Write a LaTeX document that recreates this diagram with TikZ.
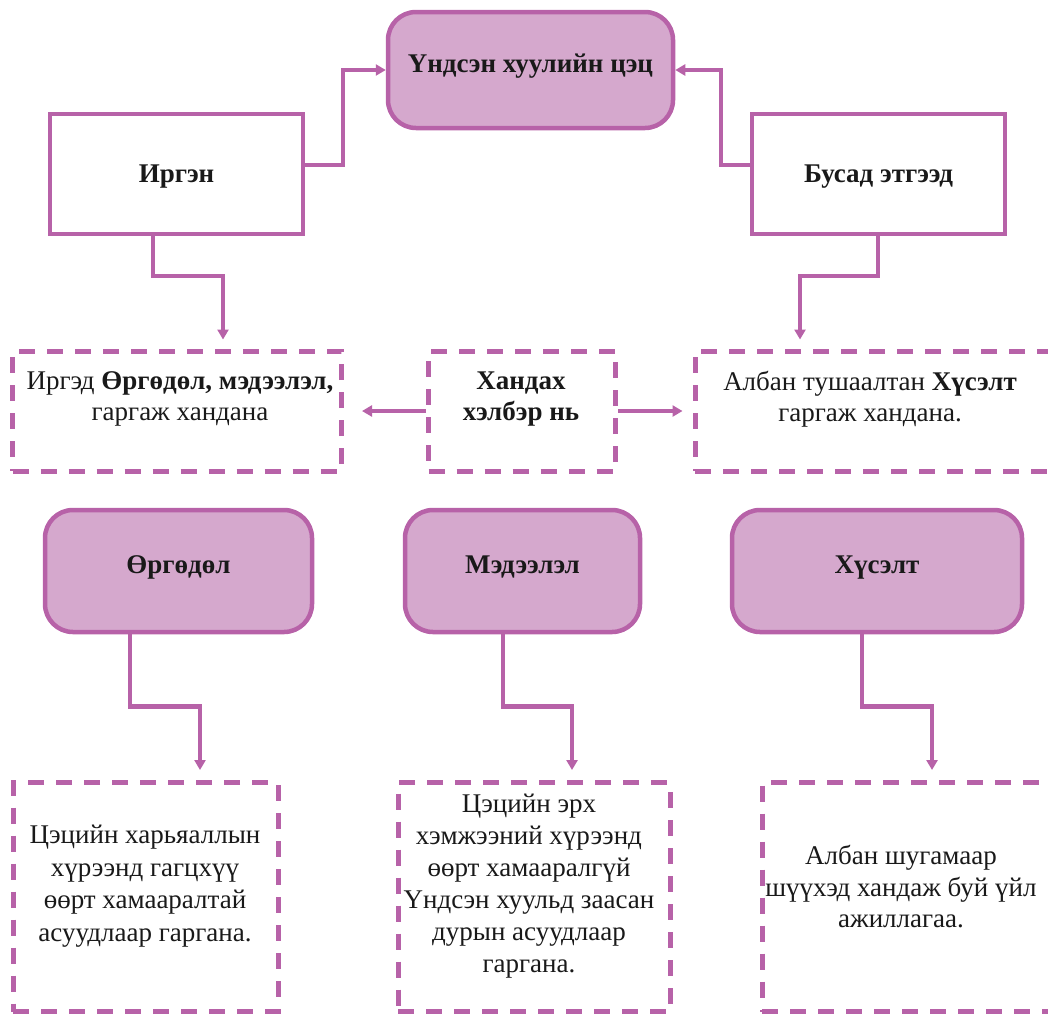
\documentclass[tikz,border=0pt]{standalone}
\usepackage{fontspec}
\setmainfont{Liberation Serif}
\usetikzlibrary{positioning, calc, arrows.meta}
\definecolor{boxpurple}{RGB}{183, 98, 168}
\definecolor{fillpurple}{RGB}{213, 168, 205}
\tikzset{
    mainbox/.style={
        draw=boxpurple, line width=4.5pt, fill=fillpurple, rounded corners=28pt, inner sep=0pt,
        text height=19pt, text depth=14pt
    },
    personbox/.style={
        draw=boxpurple, line width=4pt, fill=white, inner sep=0pt,
        text height=21pt, text depth=5pt
    },
    notebox/.style={
        draw=boxpurple, line width=5pt, dash pattern=on 16pt off 12pt, inner sep=0pt
    },
    link/.style={
        -{Triangle[length=10pt, width=11pt]}, line width=4.5pt, draw=boxpurple
    },
    boxtext/.style={
        font=\fontsize{27}{31.5}\selectfont, align=center, text=black!90, inner sep=0pt
    }
}

\begin{document}
\begin{tikzpicture}[x=1pt, y=-1pt]
    \useasboundingbox (0,0) rectangle (1048,1015);

    % ==========================================
    % TOP: court, citizen, others
    % ==========================================
    \node[mainbox, minimum width=285pt, minimum height=116pt, boxtext] (court) at (530.5,70) {\textbf{Үндсэн хуулийн цэц}};

    \node[personbox, minimum width=253pt, minimum height=120pt, boxtext] (citizen) at (176.5,174) {\textbf{Иргэн}};
    \node[personbox, minimum width=253pt, minimum height=120pt, boxtext] (others) at (878.5,174) {\textbf{Бусад этгээд}};

    \draw[link] ([yshift=9pt]citizen.east) -- ++(38,0) |- (court.west);
    \draw[link] ([yshift=9pt]others.west) -- ++(-29,0) |- (court.east);

    % ==========================================
    % ROW 2: ways of applying
    % ==========================================
    \node[notebox, minimum width=329pt, minimum height=120pt] (citizenway) at (177,411) {};
    \node[boxtext] (citizenway-txt) at (180,399) {Иргэд \textbf{Өргөдөл, мэдээлэл,}\\гаргаж хандана};

    \node[notebox, minimum width=187pt, minimum height=120pt] (ways) at (522,411) {};
    \node[boxtext] (ways-txt) at (521,399) {\textbf{Хандах}\\\textbf{хэлбэр нь}};

    \node[notebox, minimum width=357pt, minimum height=120pt] (othersway) at (873.5,411) {};
    \node[boxtext] (othersway-txt) at (870,399) {Албан тушаалтан \textbf{Хүсэлт}\\гаргаж хандана.};

    \draw[link] ([xshift=-23.5pt]citizen.south) -- ++(0,40) -| ([xshift=46pt, yshift=9pt]citizenway.north);
    \draw[link] ([xshift=-0.5pt]others.south) -- ++(0,40) -| ([xshift=-73.5pt, yshift=9pt]othersway.north);

    \draw[link] (ways.west) -- ([xshift=18pt]citizenway.east);
    \draw[link] (ways.east) -- ([xshift=-10pt]othersway.west);

    % ==========================================
    % ROW 3: petition, notice, request
    % ==========================================
    \node[mainbox, minimum width=267pt, minimum height=122pt, boxtext] (petition) at (178.5,571) {\textbf{Өргөдөл}};
    \node[mainbox, minimum width=235pt, minimum height=122pt, boxtext] (notice) at (522.5,571) {\textbf{Мэдээлэл}};
    \node[mainbox, minimum width=290pt, minimum height=122pt, boxtext] (request) at (877,571) {\textbf{Хүсэлт}};

    % ==========================================
    % ROW 4: notes
    % ==========================================
    \node[notebox, minimum width=265pt, minimum height=229pt] (petitionnote) at (145.5,897) {};
    \node[boxtext, font=\fontsize{27}{32.5}\selectfont] (petitionnote-txt) at (145,886) {Цэцийн харьяаллын\\хүрээнд гагцхүү\\өөрт хамааралтай\\асуудлаар гаргана.};

    \node[notebox, minimum width=272pt, minimum height=229pt] (noticenote) at (534,897) {};
    \node[boxtext, font=\fontsize{27}{32}\selectfont] (noticenote-txt) at (529,886) {Цэцийн эрх\\хэмжээний хүрээнд\\өөрт хамааралгүй\\Үндсэн хуульд заасан\\дурын асуудлаар\\гаргана.};

    \node[notebox, minimum width=290pt, minimum height=229pt] (requestnote) at (907,897) {};
    \node[boxtext, font=\fontsize{27}{31.5}\selectfont] (requestnote-txt) at (901,887) {Албан шугамаар\\шүүхэд хандаж буй үйл\\ажиллагаа.};

    \draw[link] ([xshift=-48.5pt]petition.south) -- ++(0,72) -| ([xshift=54.5pt, yshift=10pt]petitionnote.north);
    \draw[link] ([xshift=-19.5pt]notice.south) -- ++(0,72) -| ([xshift=38pt, yshift=10pt]noticenote.north);
    \draw[link] ([xshift=-15pt]request.south) -- ++(0,72) -| ([xshift=25pt, yshift=10pt]requestnote.north);

\end{tikzpicture}
\end{document}
